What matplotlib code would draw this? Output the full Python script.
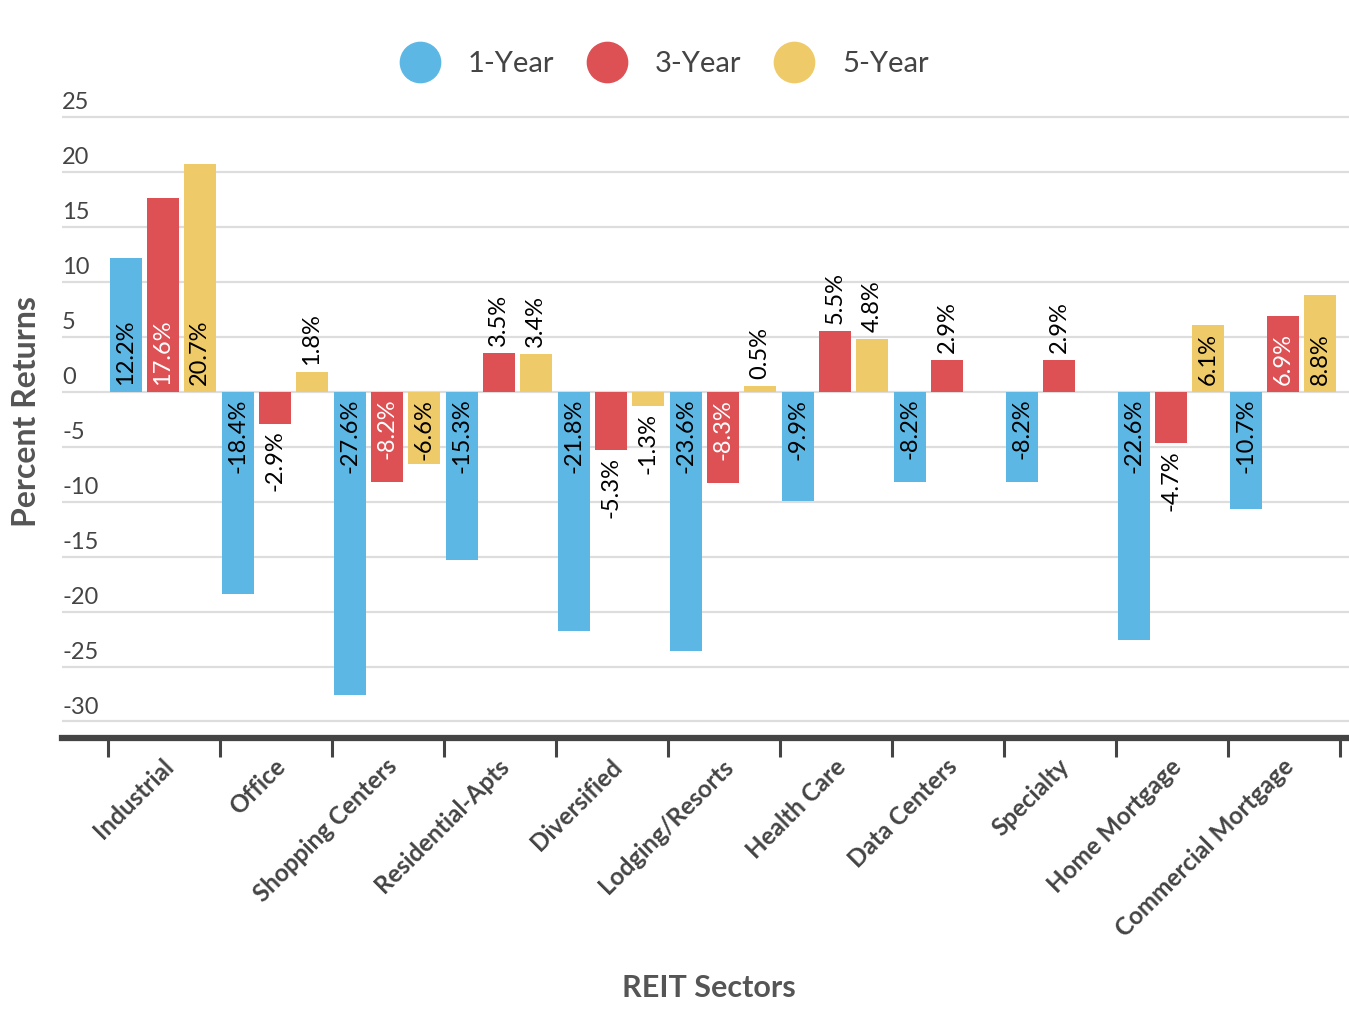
import numpy as np
import matplotlib
matplotlib.use("Agg")
import matplotlib.pyplot as plt
from matplotlib.lines import Line2D
from matplotlib.transforms import blended_transform_factory

plt.rcParams['font.family'] = ['Lato', 'DejaVu Sans']

# ---------------------------
# Daten
# ---------------------------
sektoren = ['Industrial', 'Office', 'Shopping Centers', 'Residential-Apts',
            'Diversified', 'Lodging/Resorts', 'Health Care', 'Data Centers',
            'Specialty', 'Home Mortgage', 'Commercial Mortgage']
serien = ['1-Year', '3-Year', '5-Year']
jahr1 = [12.2, -18.4, -27.6, -15.3, -21.8, -23.6, -9.9, -8.2, -8.2, -22.6, -10.7]
jahr3 = [17.6, -2.9, -8.2, 3.5, -5.3, -8.3, 5.5, 2.9, 2.9, -4.7, 6.9]
jahr5 = [20.7, 1.8, -6.6, 3.4, -1.3, 0.5, 4.8, np.nan, np.nan, 6.1, 8.8]
y_ticks = [-30, -25, -20, -15, -10, -5, 0, 5, 10, 15, 20, 25]

farben = ['#5DB7E5', '#DD5155', '#EFCA68']
text_inside = ['black', 'white', 'black']
offsets = [-0.34, -0.01, 0.32]
breite = 0.29
grau = '#444444'

# ---------------------------
# Figur
# ---------------------------
fig = plt.figure(figsize=(13.49, 10.09), dpi=100)
ax = fig.add_axes([62 / 1349, 0.2686, 1 - 62 / 1349, 0.6176])

x = np.arange(len(sektoren))
for werte, off, farbe, tfarbe in zip([jahr1, jahr3, jahr5], offsets, farben, text_inside):
    werte = np.array(werte, dtype=float)
    ax.bar(x + off, werte, width=breite, color=farbe, zorder=3)
    for xi, v in zip(x + off, werte):
        if np.isnan(v):
            continue
        lab = f'{v:.1f}%'
        richtung = 1 if v >= 0 else -1
        # Label im Balken (ab Nulllinie) wenn genug Platz, sonst am Balkenende
        innen = abs(v) >= 6
        ax.annotate(lab, (xi, 0 if innen else v), xytext=(0, 5 * richtung),
                    textcoords='offset points', rotation=90, ha='center',
                    va='bottom' if v >= 0 else 'top', fontsize=17,
                    color=tfarbe if innen else 'black', zorder=4)

ax.set_xlim(-0.911, 10.58)
ax.set_ylim(-31.5, 25.2)

# Gitter und Achsen
ax.set_yticks(y_ticks)
ax.yaxis.grid(True, color='#dddddd', linewidth=1.6, zorder=0)
ax.tick_params(axis='y', length=0, labelleft=False)
trans_y = blended_transform_factory(ax.transAxes, ax.transData)
for t in y_ticks:
    ax.annotate(str(t), (0, t), xycoords=trans_y, xytext=(0, 5.5), textcoords='offset points',
                ha='left', va='baseline', fontsize=17, color=grau)

for s in ['top', 'right', 'left']:
    ax.spines[s].set_visible(False)
ax.spines['bottom'].set_linewidth(4.5)
ax.spines['bottom'].set_color(grau)
ax.set_xticks(np.arange(-0.5, len(sektoren), 1))
ax.tick_params(axis='x', length=14, width=2.2, color=grau, labelbottom=False)

trans_x = blended_transform_factory(ax.transData, ax.transAxes)
for xi, name in zip(x, sektoren):
    ax.text(xi + 0.05, -0.04, name, transform=trans_x, rotation=45, rotation_mode='anchor',
            ha='right', va='center', fontsize=17.5, fontweight='bold', color=grau)

# Legende
handles = [Line2D([], [], marker='o', ls='', markersize=29, color=f) for f in farben]
fig.legend(handles, serien, loc='center', bbox_to_anchor=(664 / 1349, 0.9365), ncol=3,
           frameon=False, fontsize=21, handlelength=1.4, handletextpad=0.95,
           columnspacing=1.1, labelcolor=grau)

fig.text(27 / 1349, (1009 - 412) / 1009, 'Percent Returns', rotation=90, ha='center', va='center',
         fontsize=23, fontweight='bold', color='#555555')
fig.text(709 / 1349, (1009 - 988) / 1009, 'REIT Sectors', ha='center', va='center',
         fontsize=22, fontweight='bold', color='#555555')

fig.savefig('out.png', dpi=100)
